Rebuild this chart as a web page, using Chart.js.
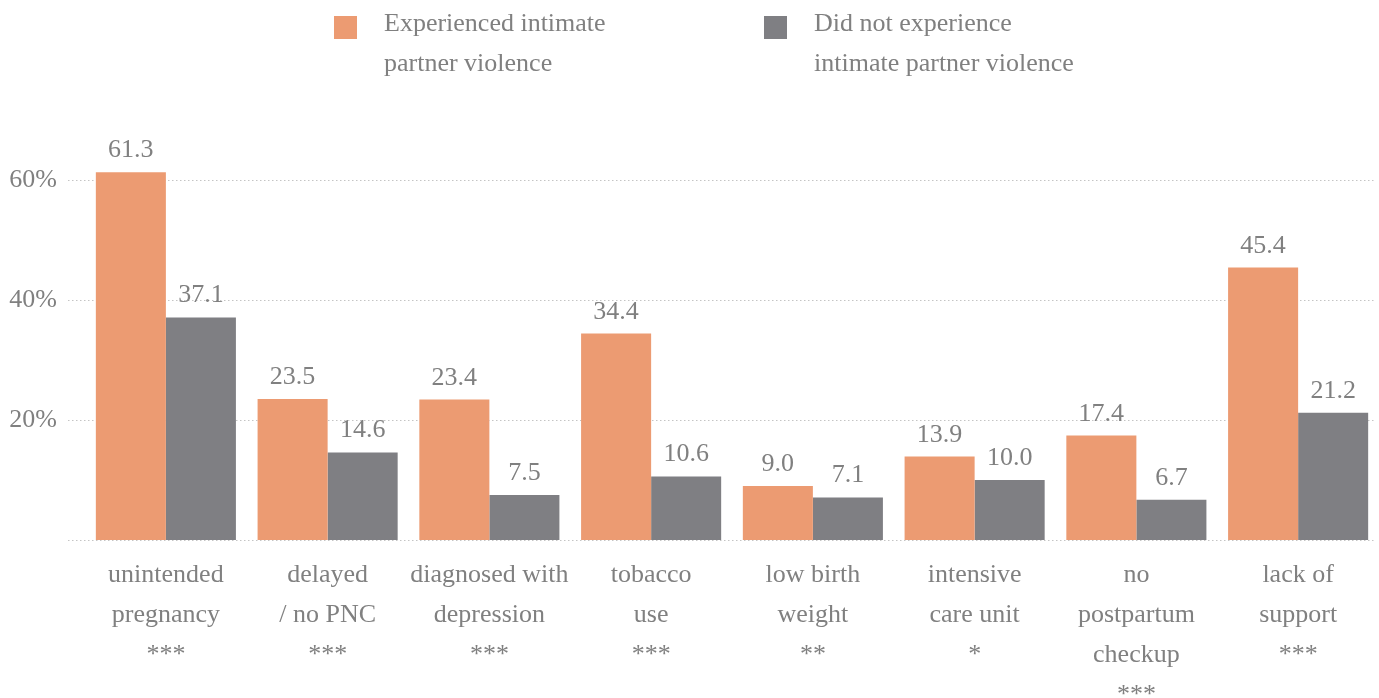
<!DOCTYPE html>
<html>
<head>
<meta charset="utf-8">
<script src="https://cdn.jsdelivr.net/npm/chart.js@4.4.1/dist/chart.umd.min.js"></script>
<style>
  html, body { margin: 0; padding: 0; background: #ffffff; }
  #wrap { width: 1379px; height: 698px; position: relative; }
</style>
</head>
<body>
<div id="wrap"><canvas id="c"></canvas></div>
<script>
// ---- data ----
const categories = [
  ["unintended", "pregnancy", "***"],
  ["delayed", "/ no PNC", "***"],
  ["diagnosed with", "depression", "***"],
  ["tobacco", "use", "***"],
  ["low birth", "weight", "**"],
  ["intensive", "care unit", "*"],
  ["no", "postpartum", "checkup", "***"],
  ["lack of", "support", "***"]
];
const experiencedIPV = [61.3, 23.5, 23.4, 34.4, 9.0, 13.9, 17.4, 45.4];
const noIPV = [37.1, 14.6, 7.5, 10.6, 7.1, 10.0, 6.7, 21.2];
const seriesLabels = [
  ["Experienced intimate", "partner violence"],
  ["Did not experience", "intimate partner violence"]
];
const yTickValues = [20, 40, 60];
const gridValues = [0, 20, 40, 60];

// ---- style ----
const FONT = "'Liberation Serif', 'Times New Roman', serif";
const TEXT = '#808080';
const ORANGE = '#EC9B72';
const GRAY = '#7F7F83';

const gridPlugin = {
  id: 'dottedGrid',
  beforeDatasetsDraw(chart) {
    const ctx = chart.ctx, y = chart.scales.y, a = chart.chartArea;
    ctx.save();
    ctx.strokeStyle = '#c4c4c4';
    ctx.lineWidth = 1;
    ctx.setLineDash([1.5, 2.5]);
    gridValues.forEach(v => {
      const py = Math.round(y.getPixelForValue(v)) + 0.5;
      ctx.beginPath();
      ctx.moveTo(a.left - 17, py);
      ctx.lineTo(a.right - 5, py);
      ctx.stroke();
    });
    ctx.restore();
  }
};

const valueLabels = {
  id: 'valueLabels',
  afterDatasetsDraw(chart) {
    const ctx = chart.ctx;
    ctx.save();
    ctx.font = '26px ' + FONT;
    ctx.fillStyle = TEXT;
    ctx.textAlign = 'center';
    ctx.textBaseline = 'alphabetic';
    chart.data.datasets.forEach((ds, i) => {
      chart.getDatasetMeta(i).data.forEach((bar, j) => {
        ctx.fillText(ds.data[j].toFixed(1), bar.x, bar.y - 15);
      });
    });
    ctx.restore();
  }
};

const legendPlugin = {
  id: 'customLegend',
  afterDraw(chart) {
    const ctx = chart.ctx;
    const lefts = [334, 764];
    ctx.save();
    ctx.font = '26px ' + FONT;
    ctx.textAlign = 'left';
    ctx.textBaseline = 'middle';
    chart.data.datasets.forEach((ds, i) => {
      const x = lefts[i];
      ctx.fillStyle = ds.backgroundColor;
      ctx.fillRect(x, 16, 23, 23);
      ctx.fillStyle = TEXT;
      seriesLabels[i].forEach((line, k) => {
        ctx.fillText(line, x + 50, 24 + k * 40);
      });
    });
    ctx.restore();
  }
};

new Chart(document.getElementById('c'), {
  type: 'bar',
  data: {
    labels: categories,
    datasets: [
      { label: seriesLabels[0].join(' '), data: experiencedIPV, backgroundColor: ORANGE, borderWidth: 0 },
      { label: seriesLabels[1].join(' '), data: noIPV, backgroundColor: GRAY, borderWidth: 0 }
    ]
  },
  options: {
    responsive: true,
    maintainAspectRatio: false,
    animation: false,
    layout: { padding: { top: 120, left: 0, right: 0, bottom: 0 } },
    datasets: { bar: { categoryPercentage: 0.866, barPercentage: 1.0 } },
    plugins: { legend: { display: false }, tooltip: { enabled: false } },
    scales: {
      x: {
        grid: { display: false, drawTicks: false },
        border: { display: false },
        ticks: {
          font: { family: FONT, size: 26, lineHeight: 40 / 26 },
          color: TEXT,
          padding: 15,
          maxRotation: 0,
          autoSkip: false
        },
        afterFit(scale) { scale.height = 158; }
      },
      y: {
        min: 0,
        max: 70,
        grid: { display: false, drawTicks: false },
        border: { display: false },
        ticks: {
          font: { family: FONT, size: 26 },
          color: TEXT,
          padding: 28,
          callback: v => v + '%'
        },
        afterBuildTicks(scale) { scale.ticks = yTickValues.map(v => ({ value: v })); },
        afterFit(scale) { scale.width = 85; }
      }
    }
  },
  plugins: [gridPlugin, valueLabels, legendPlugin]
});
</script>
</body>
</html>
